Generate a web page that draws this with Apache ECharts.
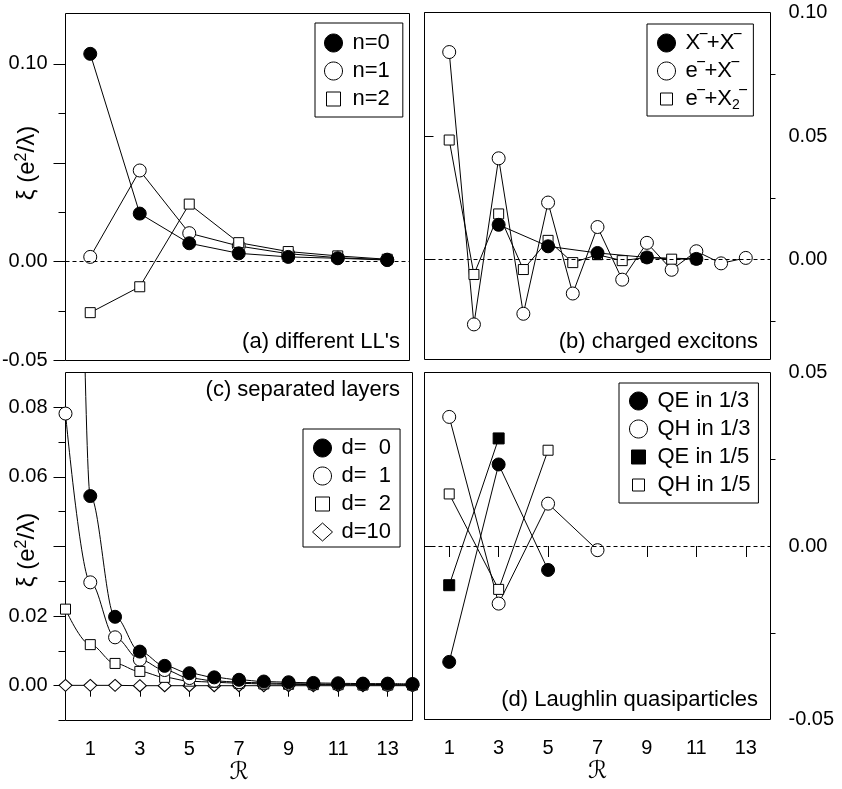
<!DOCTYPE html>
<html>
<head>
<meta charset="utf-8">
<script src="https://cdn.jsdelivr.net/npm/echarts@6/dist/echarts.min.js"></script>
<style>
  html, body { margin: 0; padding: 0; background: #fff; }
  #chart { width: 842px; height: 789px; }
</style>
</head>
<body>
<div id="chart"></div>
<script>
// ---- (a) different Landau levels ----
const rA = [1, 3, 5, 7, 9, 11, 13];
const xiN0 = [0.1051, 0.0243, 0.0093, 0.0042, 0.0024, 0.0017, 0.0008];
const xiN1 = [0.0024, 0.0461, 0.0144, 0.0079, 0.0040, 0.0020, 0.0010];
const xiN2 = [-0.0258, -0.0127, 0.0291, 0.0096, 0.0051, 0.0029, 0.0012];

// ---- (b) charged excitons ----
const rBeX = [1, 2, 3, 4, 5, 6, 7, 8, 9, 10, 11, 12, 13];
const xiEX = [0.0840, -0.0262, 0.0410, -0.0219, 0.0231, -0.0137, 0.0132, -0.0081, 0.0068, -0.0041, 0.0034, -0.0015, 0.0007];
const rBeX2 = [1, 2, 3, 4, 5, 6, 7, 8, 9, 10, 11];
const xiEX2 = [0.0484, -0.0060, 0.0185, -0.0040, 0.0078, -0.0012, 0.0020, -0.0004, 0.0009, 0.0002, 0.0003];
const rBXX = [3, 5, 7, 9, 11];
const xiXX = [0.0141, 0.0054, 0.0027, 0.0009, 0.0003];

// ---- (c) separated layers ----
const rC = [0, 1, 2, 3, 4, 5, 6, 7, 8, 9, 10, 11, 12, 13, 14];
const xiD0 = [0.49, 0.0545, 0.0198, 0.0098, 0.0057, 0.0036, 0.0024, 0.0017, 0.0012, 0.0010, 0.0008, 0.0007, 0.0006, 0.0006, 0.0005];
const xiD1 = [0.0782, 0.0297, 0.0139, 0.0075, 0.0045, 0.0022, 0.0014, 0.0010, 0.0008, 0.0006, 0.0005, 0.0004, 0.0004, 0.0003, 0.0003];
const xiD2 = [0.0220, 0.0118, 0.0064, 0.0041, 0.0024, 0.0013, 0.0010, 0.0007, 0.0005, 0.0004, 0.0003, 0.0003, 0.0002, 0.0002, 0.0002];
const xiD10 = [0.0001, 0.0001, 0.0001, 0.0000, 0.0000, 0.0000, 0.0000, 0.0000, 0.0000, 0.0000, 0.0000, 0.0000, 0.0000, 0.0000, 0.0000];

// ---- (d) Laughlin quasiparticles ----
const rQE13 = [1, 3, 5];
const xiQE13 = [-0.0334, 0.0235, -0.0069];
const rQH13 = [1, 3, 5, 7];
const xiQH13 = [0.0372, -0.0166, 0.0122, -0.0012];
const rQE15 = [1, 3];
const xiQE15 = [-0.0113, 0.0310];
const rQH15 = [1, 3, 5];
const xiQH15 = [0.0150, -0.0125, 0.0276];

// ---- names, labels, ticks ----
const namesA = ['n=0', 'n=1', 'n=2'];
const namesB = ['X{s|‾}+X{s|‾}', 'e{s|‾}+X{s|‾}', 'e{s|‾}+X{u|2}{s|‾}'];
const namesC = ['d=  0', 'd=  1', 'd=  2', 'd=10'];
const namesD = ['QE in 1/3', 'QH in 1/3', 'QE in 1/5', 'QH in 1/5'];
const panelTitles = ["(a) different LL's", '(b) charged excitons', '(c) separated layers', '(d) Laughlin quasiparticles'];
const yTitle = 'ξ (e{sup|2}/λ)';
const xTitle = 'ℛ';
const xTickLabels = ['1', '3', '5', '7', '9', '11', '13'];
const yTickLabels = [
  ['0.10', '0.00', '-0.05'],
  ['0.10', '0.05', '0.00'],
  ['0.08', '0.06', '0.02', '0.00'],
  ['0.05', '0.00', '-0.05']
];
const yMajorTicks = [
  [-0.05, 0, 0.05, 0.10],
  [0, 0.05, 0.10],
  [0, 0.02, 0.04, 0.06, 0.08],
  [-0.05, 0, 0.05]
];
const yMinorTicks = [
  [-0.025, 0.025, 0.075],
  [-0.025, 0.025, 0.075],
  [-0.01, 0.01, 0.03, 0.05, 0.07],
  [-0.025, 0.025]
];
const yRanges = [[-0.05, 0.1255], [-0.0404, 0.10], [-0.01, 0.09], [-0.05, 0.05]];
const xRanges = [[0, 13.9], [0, 14], [0, 14], [0, 14]];

const FONT = "'Liberation Sans', Arial, Helvetica, sans-serif";
const INK = '#000';

// panel frames
const panels = [
  { left: 65.5, top: 13.5, width: 344, height: 347 },
  { left: 424.5, top: 12.5, width: 346, height: 347 },
  { left: 65.5, top: 372.5, width: 347, height: 348 },
  { left: 424.5, top: 372.5, width: 346, height: 347 }
];
const leftSide = [true, false, true, false];

const grid = panels.map(p => Object.assign({
  show: true, borderColor: INK, borderWidth: 1, backgroundColor: 'transparent',
  containLabel: false, outerBoundsMode: 'none'
}, p));

const xAxis = panels.map((p, i) => {
  const bottomAxis = i >= 2;
  const vals = xTickLabels.map(Number);
  return {
    type: 'value', gridIndex: i, min: xRanges[i][0], max: xRanges[i][1],
    axisLine: { show: false }, splitLine: { show: false },
    axisTick: { show: bottomAxis, customValues: vals, length: 11, lineStyle: { color: INK, width: 1 } },
    axisLabel: {
      show: bottomAxis, customValues: vals, margin: 19,
      formatter: v => xTickLabels[vals.indexOf(v)] || '',
      color: INK, fontSize: 20, lineHeight: 20, fontFamily: FONT
    },
    name: bottomAxis ? xTitle : '', nameLocation: 'middle', nameGap: 38,
    nameTextStyle: { color: INK, fontSize: 24, lineHeight: 24, fontFamily: "'DejaVu Sans', 'DejaVu Serif', serif" }
  };
});

// major (labelled, long) and minor (short) y ticks on separate axes
const yAxis = [];
panels.forEach((p, i) => {
  const isLeft = leftSide[i];
  const labelVals = yTickLabels[i].map(Number);
  yAxis.push({
    type: 'value', gridIndex: i, position: isLeft ? 'left' : 'right',
    min: yRanges[i][0], max: yRanges[i][1],
    axisLine: { show: false }, splitLine: { show: false },
    axisTick: { show: true, customValues: yMajorTicks[i], length: isLeft ? 12 : 9, lineStyle: { color: INK, width: 1 } },
    axisLabel: {
      show: true, customValues: labelVals, margin: 18,
      formatter: v => {
        const k = labelVals.findIndex(t => Math.abs(t - v) < 1e-9);
        return k >= 0 ? yTickLabels[i][k] : '';
      },
      color: INK, fontSize: 20, fontFamily: FONT
    }
  });
});
panels.forEach((p, i) => {
  const isLeft = leftSide[i];
  yAxis.push({
    type: 'value', gridIndex: i, position: isLeft ? 'left' : 'right',
    min: yRanges[i][0], max: yRanges[i][1],
    axisLine: { show: false }, splitLine: { show: false },
    axisTick: { show: true, customValues: yMinorTicks[i], length: isLeft ? 7 : 5, lineStyle: { color: INK, width: 1 } },
    axisLabel: { show: false }
  });
});

// marker styles
const MK = {
  dot:     { symbol: 'circle', size: 13, item: { color: INK, borderColor: INK, borderWidth: 1 } },
  ring:    { symbol: 'circle', size: 13, item: { color: '#fff', borderColor: INK, borderWidth: 1 } },
  box:     { symbol: 'rect', size: 10, item: { color: '#fff', borderColor: INK, borderWidth: 1 } },
  block:   { symbol: 'rect', size: 11, item: { color: INK, borderColor: INK, borderWidth: 1 } },
  diamond: { symbol: 'diamond', size: [13, 12], item: { color: '#fff', borderColor: INK, borderWidth: 1 } }
};

const zeroLine = {
  silent: true, symbol: ['none', 'none'], label: { show: false }, animation: false,
  lineStyle: { color: INK, width: 1, type: [4, 3] },
  emphasis: { disabled: true },
  data: [{ yAxis: 0 }]
};

function curve(name, xs, ys, panel, mk, extra) {
  return Object.assign({
    type: 'line', name: name, xAxisIndex: panel, yAxisIndex: panel,
    data: xs.map((x, k) => [x, ys[k]]),
    symbol: mk.symbol, symbolSize: mk.size, itemStyle: mk.item,
    lineStyle: { color: INK, width: 1 },
    showSymbol: true, clip: true, silent: true,
    emphasis: { disabled: true }, animation: false
  }, extra || {});
}

const smoothC = { smooth: 0.35, smoothMonotone: 'x' };

const series = [
  // (a)
  curve(namesA[1], rA, xiN1, 0, MK.ring, { markLine: zeroLine }),
  curve(namesA[2], rA, xiN2, 0, MK.box),
  curve(namesA[0], rA, xiN0, 0, MK.dot),
  // (b)
  curve(namesB[1], rBeX, xiEX, 1, MK.ring, { markLine: zeroLine }),
  curve(namesB[2], rBeX2, xiEX2, 1, MK.box),
  curve(namesB[0], rBXX, xiXX, 1, MK.dot),
  // (c)
  curve(namesC[3], rC, xiD10, 2, MK.diamond),
  curve(namesC[2], rC, xiD2, 2, MK.box, smoothC),
  curve(namesC[1], rC, xiD1, 2, MK.ring, smoothC),
  curve(namesC[0], rC, xiD0, 2, MK.dot, smoothC),
  // (d)
  curve(namesD[1], rQH13, xiQH13, 3, MK.ring, { markLine: zeroLine }),
  curve(namesD[3], rQH15, xiQH15, 3, MK.box),
  curve(namesD[0], rQE13, xiQE13, 3, MK.dot),
  curve(namesD[2], rQE15, xiQE15, 3, MK.block)
];

// legend icons drawn in a 28 x 18 cell
const ICON = {
  circle: 'path://M0,0M28,18M23,9C23,13.97 18.97,18 14,18C9.03,18 5,13.97 5,9C5,4.03 9.03,0 14,0C18.97,0 23,4.03 23,9Z',
  square: 'path://M0,0M28,18M7,2L21,2L21,16L7,16Z',
  smallSquare: 'path://M0,0M28,18M8,3L20,3L20,15L8,15Z',
  diamond: 'path://M0,0M28,18M4,9L14,0L24,9L14,18Z'
};
const FILL = { color: INK, borderColor: INK, borderWidth: 1 };
const HOLLOW = { color: '#fff', borderColor: INK, borderWidth: 1 };

const RICH = {
  s: { fontSize: 20, fontFamily: FONT, color: INK },
  u: { fontSize: 14, verticalAlign: 'bottom', fontFamily: FONT, color: INK }
};
function legendBox(pos, pad, items, lineH, gap) {
  return Object.assign({
    orient: 'vertical', selectedMode: false, itemWidth: 28, itemHeight: 18, itemGap: gap,
    borderColor: INK, borderWidth: 1, borderRadius: 0, backgroundColor: '#fff', padding: pad,
    formatter: n => n,
    textStyle: { color: INK, fontSize: 22, lineHeight: lineH, fontFamily: FONT, rich: RICH },
    data: items.map(it => ({ name: it[0], icon: it[1], itemStyle: it[2] }))
  }, pos);
}

const legend = [
  legendBox({ left: 315, top: 23 }, [9, 13, 7, 4], [
    [namesA[0], ICON.circle, FILL], [namesA[1], ICON.circle, HOLLOW], [namesA[2], ICON.square, HOLLOW]
  ], 22, 6),
  legendBox({ left: 647, top: 24 }, [6, 7, 4, 5], [
    [namesB[0], ICON.circle, FILL], [namesB[1], ICON.circle, HOLLOW], [namesB[2], ICON.smallSquare, HOLLOW]
  ], 26, 2),
  legendBox({ left: 303, top: 429 }, [8, 9, 4, 5], [
    [namesC[0], ICON.circle, FILL], [namesC[1], ICON.circle, HOLLOW],
    [namesC[2], ICON.square, HOLLOW], [namesC[3], ICON.diamond, HOLLOW]
  ], 22, 6),
  legendBox({ left: 619, top: 383 }, [7, 8, 7, 5], [
    [namesD[0], ICON.circle, FILL], [namesD[1], ICON.circle, HOLLOW],
    [namesD[2], ICON.square, FILL], [namesD[3], ICON.smallSquare, HOLLOW]
  ], 22, 6)
];

// panel captions and the shared y-axis titles
const captionPos = [[400, 342], [758, 342], [400, 390], [758, 700]];
const graphic = captionPos.map((c, i) => ({
  type: 'text', x: c[0], y: c[1], silent: true,
  style: { text: panelTitles[i], fill: INK, fontSize: 22, fontFamily: FONT, align: 'right', verticalAlign: 'middle' }
}));
[[27, 163], [27, 550]].forEach(c => {
  graphic.push({
    type: 'text', x: c[0], y: c[1], rotation: Math.PI / 2, silent: true,
    style: {
      text: yTitle, fill: INK, fontSize: 24, lineHeight: 26, fontFamily: FONT,
      align: 'center', verticalAlign: 'middle',
      rich: { sup: { fontSize: 16, verticalAlign: 'top', fontFamily: FONT, fill: INK } }
    }
  });
});

const chart = echarts.init(document.getElementById('chart'), null, { renderer: 'canvas' });
chart.setOption({
  animation: false,
  backgroundColor: '#fff',
  grid: grid,
  xAxis: xAxis,
  yAxis: yAxis,
  legend: legend,
  graphic: graphic,
  series: series
});
</script>
</body>
</html>
